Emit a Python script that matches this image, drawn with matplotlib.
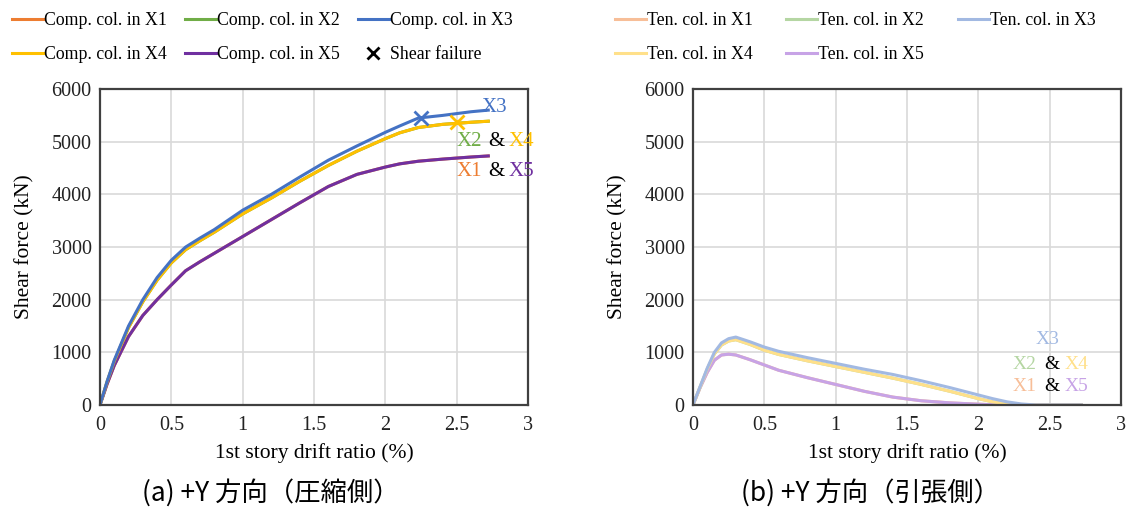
import matplotlib.pyplot as plt
from matplotlib.lines import Line2D

# (a) compression-side columns, +Y direction
drift_comp = [0, 0.05, 0.1, 0.2, 0.3, 0.4, 0.5, 0.6, 0.7, 0.8, 1.0, 1.2, 1.4,
              1.6, 1.8, 2.0, 2.1, 2.23, 2.4, 2.6, 2.72]
comp_x3 = [0, 450, 850, 1500, 2000, 2420, 2750, 3000, 3170, 3330, 3700, 4000,
           4330, 4650, 4920, 5180, 5300, 5450, 5500, 5570, 5600]
comp_x4 = [0, 440, 830, 1470, 1960, 2370, 2700, 2950, 3120, 3280, 3630, 3930,
           4250, 4550, 4820, 5060, 5170, 5270, 5330, 5370, 5390]
comp_x5 = [0, 400, 750, 1300, 1700, 2000, 2280, 2550, 2720, 2880, 3200, 3520,
           3840, 4150, 4380, 4520, 4580, 4630, 4670, 4710, 4730]
comp_x2 = list(comp_x4)  # coincides with X4
comp_x1 = list(comp_x5)  # coincides with X5

# shear failure points
fail_x = [2.25, 2.50]
fail_y = [5460, 5370]

# (b) tension-side columns, +Y direction
drift_ten = [0, 0.05, 0.1, 0.15, 0.2, 0.25, 0.3, 0.4, 0.5, 0.6, 0.8, 1.0, 1.2,
             1.4, 1.6, 1.8, 2.0, 2.1, 2.2, 2.3, 2.4, 2.72]
ten_x3 = [0, 350, 700, 1000, 1180, 1260, 1290, 1200, 1100, 1020, 900, 790, 680,
          580, 460, 330, 190, 120, 60, 20, 0, 0]
ten_x4 = [0, 340, 680, 970, 1140, 1215, 1240, 1150, 1040, 960, 840, 730, 620,
          510, 390, 260, 120, 60, 20, 0, 0, 0]
ten_x5 = [0, 330, 620, 850, 950, 965, 950, 860, 760, 660, 520, 390, 260, 150,
          80, 40, 15, 5, 0, 0, 0, 0]
ten_x2 = list(ten_x4)
ten_x1 = list(ten_x5)

colors = {'X1': '#ED7D31', 'X2': '#70AD47', 'X3': '#4472C4',
          'X4': '#FFC000', 'X5': '#7030A0'}
light = {'X1': '#F7BE98', 'X2': '#B5D6A3', 'X3': '#A2B9E2',
         'X4': '#FFE08A', 'X5': '#C7A3E6'}

serif = 'Liberation Serif'
plt.rcParams['font.family'] = [serif, 'DejaVu Sans']

fig = plt.figure(figsize=(11.36, 5.12), dpi=100)
ax1 = fig.add_axes([0.088, 0.209, 0.377, 0.617])
ax2 = fig.add_axes([0.610, 0.209, 0.377, 0.617])


def style(ax):
    ax.set_xlim(0, 3)
    ax.set_ylim(0, 6000)
    ax.set_xticks([0, 0.5, 1, 1.5, 2, 2.5, 3])
    ax.set_xticklabels(['0', '0.5', '1', '1.5', '2', '2.5', '3'])
    ax.set_yticks(range(0, 6001, 1000))
    ax.grid(True, color='#d9d9d9', linewidth=1.2)
    ax.set_axisbelow(True)
    ax.tick_params(length=0, labelsize=14.5, colors='#222222')
    ax.tick_params(axis='x', pad=8)
    ax.tick_params(axis='y', pad=6)
    for s in ax.spines.values():
        s.set_color('#404040')
        s.set_linewidth(1.6)
    ax.set_xlabel('1st story drift ratio (%)', fontsize=15.5, labelpad=6)
    ax.set_ylabel('Shear force (kN)', fontsize=15.5, labelpad=12)


# left panel
series_c = [('X1', comp_x1), ('X2', comp_x2), ('X5', comp_x5), ('X4', comp_x4), ('X3', comp_x3)]
for name, ys in series_c:
    ax1.plot(drift_comp, ys, color=colors[name], lw=2.2)
ax1.plot(fail_x[0], fail_y[0], marker='x', ms=10, mew=2, color=colors['X3'])
ax1.plot(fail_x[1], fail_y[1], marker='x', ms=10, mew=2, color=colors['X4'])
style(ax1)

ax1.text(2.67, 5650, 'X3', color=colors['X3'], fontsize=15, va='center')
ax1.text(2.50, 5000, 'X2', color=colors['X2'], fontsize=15, va='center')
ax1.text(2.72, 5000, '&', color='black', fontsize=15, va='center')
ax1.text(2.86, 5000, 'X4', color=colors['X4'], fontsize=15, va='center')
ax1.text(2.50, 4430, 'X1', color=colors['X1'], fontsize=15, va='center')
ax1.text(2.72, 4430, '&', color='black', fontsize=15, va='center')
ax1.text(2.86, 4430, 'X5', color=colors['X5'], fontsize=15, va='center')

# right panel
series_t = [('X1', ten_x1), ('X2', ten_x2), ('X5', ten_x5), ('X4', ten_x4), ('X3', ten_x3)]
for name, ys in series_t:
    ax2.plot(drift_ten, ys, color=light[name], lw=2.2)
style(ax2)

ax2.text(2.40, 1250, 'X3', color=light['X3'], fontsize=14, va='center')
ax2.text(2.24, 760, 'X2', color=light['X2'], fontsize=14, va='center')
ax2.text(2.46, 760, '&', color='black', fontsize=14, va='center')
ax2.text(2.60, 760, 'X4', color=light['X4'], fontsize=14, va='center')
ax2.text(2.24, 360, 'X1', color=light['X1'], fontsize=14, va='center')
ax2.text(2.46, 360, '&', color='black', fontsize=14, va='center')
ax2.text(2.60, 360, 'X5', color=light['X5'], fontsize=14, va='center')

# legends (column-major order so rows read X1 X2 X3 / X4 X5 ...)
h = lambda c: Line2D([], [], color=c, lw=2.2)
comp_handles = [h(colors['X1']), h(colors['X4']), h(colors['X2']), h(colors['X5']), h(colors['X3']),
                Line2D([], [], ls='none', marker='x', ms=8, mew=2, color='black')]
comp_labels = ['Comp. col. in X1', 'Comp. col. in X4', 'Comp. col. in X2',
               'Comp. col. in X5', 'Comp. col. in X3', 'Shear failure']
fig.legend(comp_handles, comp_labels, loc='upper left', bbox_to_anchor=(0.0, 1.0),
           ncol=3, frameon=False, fontsize=12.8, handlelength=1.75, handletextpad=0.05,
           columnspacing=1.0, labelspacing=0.95, borderaxespad=0.3)

ten_handles = [h(light['X1']), h(light['X4']), h(light['X2']), h(light['X5']), h(light['X3'])]
ten_labels = ['Ten. col. in X1', 'Ten. col. in X4', 'Ten. col. in X2',
              'Ten. col. in X5', 'Ten. col. in X3']
fig.legend(ten_handles, ten_labels, loc='upper left', bbox_to_anchor=(0.53, 1.0),
           ncol=3, frameon=False, fontsize=12.8, handlelength=1.75, handletextpad=0.05,
           columnspacing=1.9, labelspacing=0.95, borderaxespad=0.3)

cjk = ['Noto Sans CJK JP', 'DejaVu Sans']
fig.text(0.238, 0.038, '(a) +Y 方向（圧縮側）', family=cjk, fontsize=19, ha='center', va='center')
fig.text(0.766, 0.038, '(b) +Y 方向（引張側）', family=cjk, fontsize=19, ha='center', va='center')

fig.savefig('out.png', dpi=100)
